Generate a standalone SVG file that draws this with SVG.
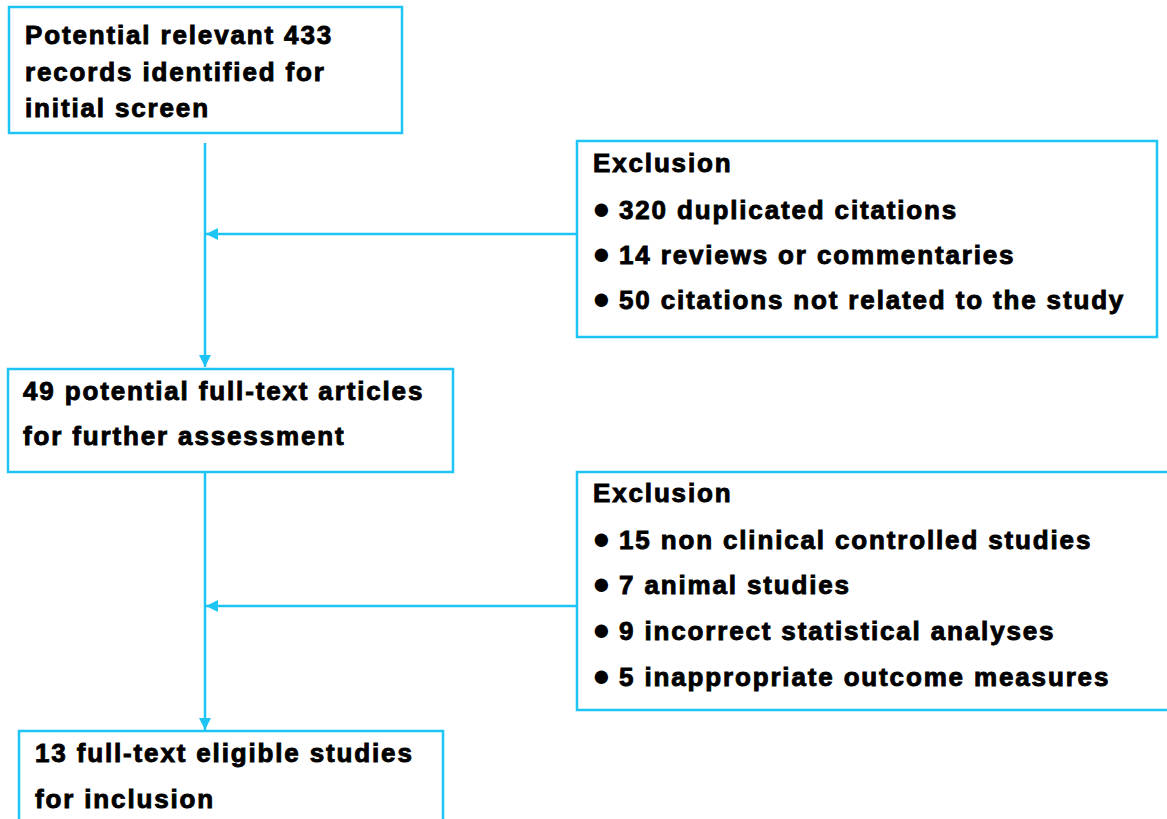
<svg xmlns="http://www.w3.org/2000/svg" width="1167" height="819" viewBox="0 0 1167 819">
<style>
.box{fill:#fff;stroke:#1ec4f4;stroke-width:2.5}
.ln{fill:none;stroke:#1ec4f4;stroke-width:2.5}
text{font-family:"Liberation Sans",Arial,sans-serif;font-weight:bold;font-size:26px;letter-spacing:1.85px;fill:#000;stroke:#000;stroke-width:0.9px}
.b{font-size:31px;stroke-width:0}
</style>
<defs>
<marker id="ah" viewBox="0 0 10 10" refX="10" refY="5" markerWidth="4.8" markerHeight="4.8" orient="auto" markerUnits="strokeWidth">
<path d="M0,0 L10,5 L0,10 z" fill="#1ec4f4"/>
</marker>
</defs>
<rect width="1167" height="819" fill="#fff"/>
<g id="connectors">
<line class="ln" x1="205" y1="143" x2="205" y2="367" marker-end="url(#ah)"/>
<line class="ln" x1="577" y1="234" x2="206" y2="234" marker-end="url(#ah)"/>
<line class="ln" x1="205" y1="472" x2="205" y2="730" marker-end="url(#ah)"/>
<line class="ln" x1="577" y1="606" x2="206" y2="606" marker-end="url(#ah)"/>
</g>
<g id="n1">
<rect class="box" x="9" y="7" width="393" height="126"/>
<text x="25" y="44">Potential relevant 433</text>
<text x="25" y="81">records identified for</text>
<text x="25" y="117">initial screen</text>
</g>
<g id="ex1">
<rect class="box" x="577" y="141" width="580" height="196"/>
<text x="593" y="172">Exclusion</text>
<text x="592" y="219"><tspan class="b">●</tspan><tspan x="619">320 duplicated citations</tspan></text>
<text x="592" y="264"><tspan class="b">●</tspan><tspan x="619">14 reviews or commentaries</tspan></text>
<text x="592" y="309"><tspan class="b">●</tspan><tspan x="619">50 citations not related to the study</tspan></text>
</g>
<g id="n2">
<rect class="box" x="8" y="369" width="445" height="103"/>
<text x="23" y="400">49 potential full-text articles</text>
<text x="23" y="445">for further assessment</text>
</g>
<g id="ex2">
<rect class="box" x="577" y="472" width="600" height="238"/>
<text x="593" y="502">Exclusion</text>
<text x="592" y="549"><tspan class="b">●</tspan><tspan x="619">15 non clinical controlled studies</tspan></text>
<text x="592" y="594"><tspan class="b">●</tspan><tspan x="619">7 animal studies</tspan></text>
<text x="592" y="640"><tspan class="b">●</tspan><tspan x="619">9 incorrect statistical analyses</tspan></text>
<text x="592" y="686"><tspan class="b">●</tspan><tspan x="619">5 inappropriate outcome measures</tspan></text>
</g>
<g id="n3">
<rect class="box" x="19" y="731" width="424" height="100"/>
<text x="35" y="762">13 full-text eligible studies</text>
<text x="35" y="808">for inclusion</text>
</g>
</svg>
